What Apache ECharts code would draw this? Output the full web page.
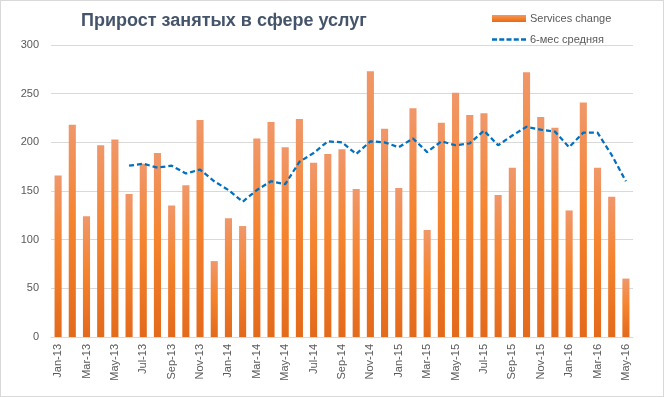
<!DOCTYPE html>
<html>
<head>
<meta charset="utf-8">
<script src="https://cdn.jsdelivr.net/npm/echarts@6/dist/echarts.min.js"></script>
<style>
  html, body { margin: 0; padding: 0; background: #fff; }
  #chart { width: 662px; height: 395px; border: 1px solid #D9D9D9; }
</style>
</head>
<body>
<div id="chart"></div>
<script>
// months, Jan-13 .. May-16
const months = [
  'Jan-13', 'Feb-13', 'Mar-13', 'Apr-13', 'May-13', 'Jun-13', 'Jul-13', 'Aug-13', 'Sep-13', 'Oct-13', 'Nov-13', 'Dec-13',
  'Jan-14', 'Feb-14', 'Mar-14', 'Apr-14', 'May-14', 'Jun-14', 'Jul-14', 'Aug-14', 'Sep-14', 'Oct-14', 'Nov-14', 'Dec-14',
  'Jan-15', 'Feb-15', 'Mar-15', 'Apr-15', 'May-15', 'Jun-15', 'Jul-15', 'Aug-15', 'Sep-15', 'Oct-15', 'Nov-15', 'Dec-15',
  'Jan-16', 'Feb-16', 'Mar-16', 'Apr-16', 'May-16'
]
// monthly change, thousands
const servicesChange = [
  166, 218, 124, 197, 203, 147, 178, 189, 135, 156, 223, 78,
  122, 114, 204, 221, 195, 224, 179, 188, 193, 152, 273, 214,
  153, 235, 110, 220, 251, 228, 230, 146, 174, 272, 226, 215,
  130, 241, 174, 144, 60
]
// 6-month average (starts at Jun-13)
const avg6 = [
  null, null, null, null, null, 176, 178, 174, 176, 168, 172, 160,
  151, 139, 151, 160, 157, 180, 189, 201, 200, 188, 201, 200,
  195, 204, 190, 201, 197, 199, 212, 197, 207, 216, 213, 211,
  195, 210, 210, 187, 160
]
const yTicks = [0, 50, 100, 150, 200, 250, 300]

const chart = echarts.init(document.getElementById('chart'))
const font = 'Liberation Sans, Arial, sans-serif'
// dashed line icon for the legend (5 dashes)
const dashIcon = 'path://M0,0h5v2.5h-5z M7.25,0h5v2.5h-5z M14.5,0h5v2.5h-5z M21.75,0h5v2.5h-5z M29,0h5v2.5h-5z'

chart.setOption({
  animation: false,
  textStyle: { fontFamily: font },
  title: {
    text: 'Прирост занятых в сфере услуг',
    left: 75,
    top: 6,
    textStyle: {
      fontFamily: font,
      fontSize: 18,
      fontWeight: 'bold',
      color: '#44546A'
    }
  },
  legend: {
    orient: 'vertical',
    left: 491,
    top: 12,
    padding: 0,
    itemWidth: 34,
    itemHeight: 7,
    itemGap: 10,
    textStyle: { color: '#595959', fontSize: 11, fontFamily: font, padding: [0, 0, 0, -1] },
    data: [
      { name: 'Services change', icon: 'rect' },
      { name: '6-мес средняя', icon: dashIcon }
    ]
  },
  grid: {
    left: 50,
    right: 30,
    top: 44,
    bottom: 59
  },
  xAxis: {
    type: 'category',
    data: months,
    axisLine: { lineStyle: { color: '#D9D9D9', width: 1 } },
    axisTick: { show: false },
    axisLabel: {
      rotate: 90,
      interval: 1,
      margin: 7,
      color: '#595959',
      fontSize: 11,
      fontFamily: font
    }
  },
  yAxis: {
    type: 'value',
    min: yTicks[0],
    max: yTicks[yTicks.length - 1],
    interval: 50,
    axisLine: { show: false },
    axisTick: { show: false },
    splitLine: { lineStyle: { color: '#D9D9D9', width: 1 } },
    axisLabel: {
      margin: 12,
      color: '#595959',
      fontSize: 11,
      fontFamily: font
    }
  },
  series: [{
    name: 'Services change',
    type: 'bar',
    data: servicesChange,
    barWidth: '50%',
    itemStyle: {
      color: new echarts.graphic.LinearGradient(0, 0, 0, 1, [
        { offset: 0, color: '#F0976A' },
        { offset: 0.45, color: '#F5842F' },
        { offset: 1, color: '#E36A1B' }
      ])
    }
  }, {
    name: '6-мес средняя',
    type: 'line',
    data: avg6,
    symbol: 'none',
    lineStyle: {
      color: '#0070C0',
      width: 2.25,
      type: [5, 3]
    },
    itemStyle: { color: '#0070C0' }
  }]
})
</script>
</body>
</html>
